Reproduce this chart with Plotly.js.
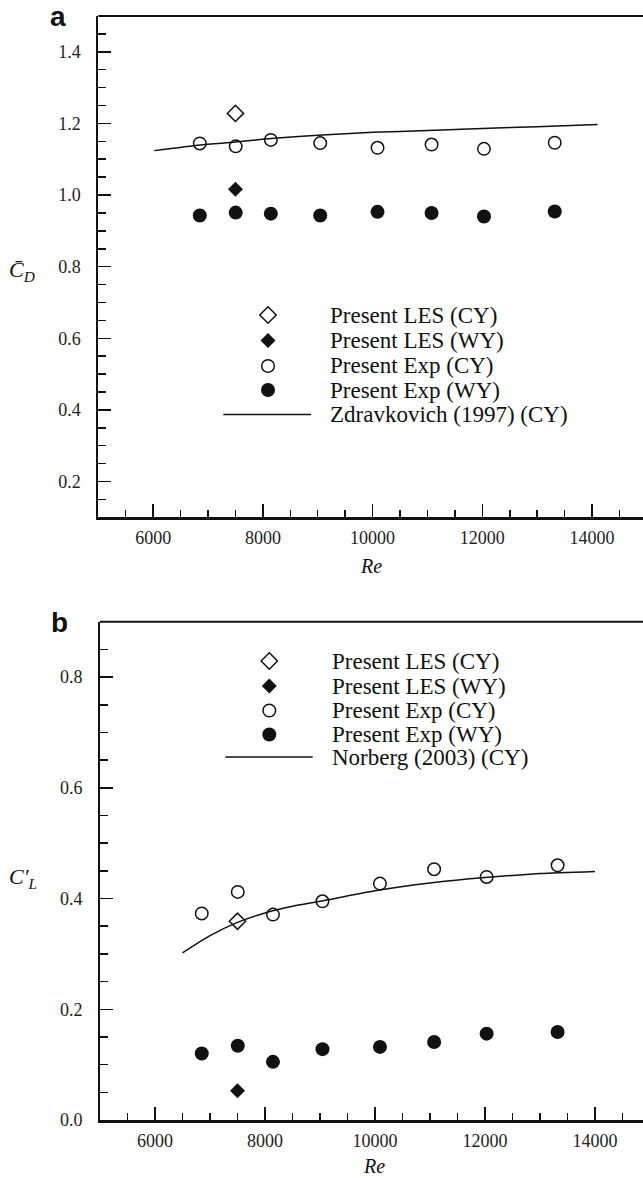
<!DOCTYPE html>
<html>
<head>
<meta charset="utf-8">
<script src="https://cdn.plot.ly/plotly-3.0.1.min.js"></script>
<style>html,body{margin:0;padding:0;background:#fff;}#chart{width:643px;height:1178px;}</style>
</head>
<body>
<div id="chart"></div>
<script>
// ---------- data ----------
const reExp = [6850, 7505, 8145, 9045, 10090, 11075, 12030, 13320];
const reLes = [7500];
// panel a : mean drag coefficient
const cdExpCY = [1.144, 1.136, 1.154, 1.145, 1.132, 1.141, 1.129, 1.146];
const cdExpWY = [0.943, 0.951, 0.948, 0.943, 0.953, 0.950, 0.940, 0.954];
const cdLesCY = [1.228];
const cdLesWY = [1.016];
const zdravRe = [6020, 6860, 7500, 8150, 9000, 10000, 11000, 12000, 13000, 14100];
const zdravCd = [1.124, 1.140, 1.148, 1.158, 1.167, 1.175, 1.180, 1.186, 1.191, 1.197];
// panel b : rms lift coefficient
const clExpCY = [0.373, 0.412, 0.371, 0.395, 0.427, 0.453, 0.439, 0.460];
const clExpWY = [0.120, 0.134, 0.105, 0.128, 0.132, 0.141, 0.156, 0.159];
const clLesCY = [0.359];
const clLesWY = [0.053];
const norbRe = [6500, 7000, 7500, 8000, 8500, 9000, 10000, 11000, 12000, 13000, 14000];
const norbCl = [0.302, 0.333, 0.357, 0.374, 0.386, 0.395, 0.414, 0.428, 0.438, 0.445, 0.449];
const legendA = ['Present LES (CY)', 'Present LES (WY)', 'Present Exp (CY)', 'Present Exp (WY)', 'Zdravkovich (1997) (CY)'];
const legendB = ['Present LES (CY)', 'Present LES (WY)', 'Present Exp (CY)', 'Present Exp (WY)', 'Norberg (2003) (CY)'];

// ---------- layout helpers ----------
const W = 643, H = 1178;
const px = x => x / W;
const py = y => 1 - y / H;
const INK = '#111';
const SERIF = 'Liberation Serif, Times New Roman, serif';
const SANS = 'Liberation Sans, Arial, sans-serif';

const mk = {
  lesCY: {symbol: 'diamond-open', size: 12.5, color: INK, line: {width: 1.5, color: INK}},
  lesWY: {symbol: 'diamond', size: 11.5, color: INK, line: {width: 0}},
  expCY: {symbol: 'circle-open', size: 12.5, color: INK, line: {width: 1.5, color: INK}},
  expWY: {symbol: 'circle', size: 14, color: INK, line: {width: 0}}
};

function panel(xa, ya, lineX, lineY, les1, les2, exp1, exp2) {
  return [
    {x: lineX, y: lineY, xaxis: xa, yaxis: ya, mode: 'lines', line: {color: INK, width: 1.5, shape: 'spline', smoothing: 0.6}, showlegend: false, hoverinfo: 'skip'},
    {x: reExp, y: exp1, xaxis: xa, yaxis: ya, mode: 'markers', marker: mk.expCY, showlegend: false},
    {x: reExp, y: exp2, xaxis: xa, yaxis: ya, mode: 'markers', marker: mk.expWY, showlegend: false},
    {x: reLes, y: les1, xaxis: xa, yaxis: ya, mode: 'markers', marker: mk.lesCY, showlegend: false},
    {x: reLes, y: les2, xaxis: xa, yaxis: ya, mode: 'markers', marker: mk.lesWY, showlegend: false}
  ];
}

const data = [].concat(
  panel('x', 'y', zdravRe, zdravCd, cdLesCY, cdLesWY, cdExpCY, cdExpWY),
  panel('x2', 'y2', norbRe, norbCl, clLesCY, clLesWY, clExpCY, clExpWY)
);

const tickFont = {family: SERIF, size: 18, color: '#222'};
function xAxis(anchor, left, maxRe) {
  return {
    anchor: anchor, domain: [px(left), 1], range: [5000, maxRe],
    showline: true, linewidth: 3, linecolor: INK, zeroline: false, showgrid: false,
    ticks: 'inside', ticklen: 13, tickwidth: 1.5, tickcolor: INK,
    dtick: 2000, tick0: 0, tickformat: 'd', tickfont: tickFont, ticklabelstandoff: 2,
    minor: {ticks: 'inside', ticklen: 7, tickwidth: 1.5, tickcolor: INK, dtick: 500, tick0: 0, showgrid: false},
    fixedrange: true
  };
}
function yAxis(anchor, top, bottom, range) {
  return {
    anchor: anchor, domain: [py(bottom), py(top)], range: range,
    showline: true, linewidth: 2, linecolor: INK, zeroline: false, showgrid: false,
    ticks: 'inside', ticklen: 13, tickwidth: 1.5, tickcolor: INK,
    dtick: 0.2, tick0: 0, tickformat: '.1f', tickfont: tickFont, ticklabelstandoff: 12,
    minor: {ticks: 'inside', ticklen: 8, tickwidth: 1.5, tickcolor: INK, dtick: 0.05, tick0: 0, showgrid: false},
    fixedrange: true
  };
}

// legend builders (drawn as layout decorations)
function legendShapes(symX, rows, lineX0, lineX1) {
  const base = {xref: 'paper', yref: 'paper', xsizemode: 'pixel', ysizemode: 'pixel', xanchor: px(symX)};
  return [
    Object.assign({}, base, {type: 'path', yanchor: py(rows[0]), path: 'M0,8.2L8.2,0L0,-8.2L-8.2,0Z', line: {color: INK, width: 1.5}, fillcolor: 'rgba(0,0,0,0)'}),
    Object.assign({}, base, {type: 'path', yanchor: py(rows[1]), path: 'M0,7.5L7.5,0L0,-7.5L-7.5,0Z', line: {color: INK, width: 0}, fillcolor: INK}),
    Object.assign({}, base, {type: 'circle', yanchor: py(rows[2]), x0: -6.3, x1: 6.3, y0: -6.3, y1: 6.3, line: {color: INK, width: 1.5}, fillcolor: 'rgba(0,0,0,0)'}),
    Object.assign({}, base, {type: 'circle', yanchor: py(rows[3]), x0: -7, x1: 7, y0: -7, y1: 7, line: {color: INK, width: 0}, fillcolor: INK}),
    {type: 'line', xref: 'paper', yref: 'paper', x0: px(lineX0), x1: px(lineX1), y0: py(rows[4]), y1: py(rows[4]), line: {color: INK, width: 1.5}}
  ];
}
function legendTexts(textX, rows, labels) {
  return labels.map((t, i) => ({
    text: t, xref: 'paper', yref: 'paper', x: px(textX), y: py(rows[i]), xanchor: 'left', yanchor: 'middle',
    showarrow: false, font: {family: SERIF, size: 23, color: INK}
  }));
}

const rowsA = [315, 340.5, 366, 390, 414.5];
const rowsB = [661, 686, 710.5, 734.5, 757];

const shapes = [
  {type: 'line', xref: 'paper', yref: 'paper', x0: px(98.3), x1: 1, y0: py(16), y1: py(16), line: {color: INK, width: 2}},
  {type: 'line', xref: 'paper', yref: 'paper', x0: px(100), x1: 1, y0: py(621.7), y1: py(621.7), line: {color: INK, width: 2}}
].concat(legendShapes(268, rowsA, 223.3, 311), legendShapes(269.3, rowsB, 225.4, 312.7));

const ann = (text, x, y, size, extra) => Object.assign({
  text: text, xref: 'paper', yref: 'paper', x: px(x), y: py(y), xanchor: 'center', yanchor: 'middle',
  showarrow: false, font: {family: SERIF, size: size, color: INK}
}, extra || {});

const annotations = [
  ann('<b>a</b>', 58, 0, 28, {yanchor: 'top', borderpad: 0, font: {family: SANS, size: 28, color: INK}}),
  ann('<b>b</b>', 59.5, 622, 28, {font: {family: SANS, size: 28, color: INK}}),
  ann('<i>C\u0304</i><sub><i>D</i></sub>', 22, 271, 22),
  ann('<i>C\u2032</i><sub><i>L</i></sub>', 23, 878, 22),
  ann('<i>Re</i>', 371, 566, 20),
  ann('<i>Re</i>', 374, 1166, 20)
].concat(legendTexts(328.3, rowsA, legendA), legendTexts(330, rowsB, legendB));

const layout = {
  width: W, height: H,
  margin: {l: 0, r: 0, t: 0, b: 0},
  paper_bgcolor: '#fff', plot_bgcolor: 'rgba(0,0,0,0)',
  showlegend: false,
  xaxis: xAxis('y', 98.3, 14929),
  yaxis: yAxis('x', 16, 517.3, [0.1, 1.5]),
  xaxis2: xAxis('y2', 100, 14873),
  yaxis2: yAxis('x2', 621.7, 1120, [0, 0.9]),
  shapes: shapes,
  annotations: annotations,
  font: {family: SERIF, color: INK}
};

Plotly.newPlot('chart', data, layout, {staticPlot: true, displayModeBar: false});
</script>
</body>
</html>
